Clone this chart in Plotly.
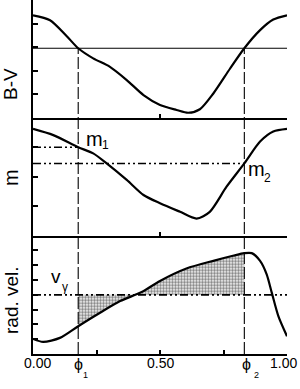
import plotly.graph_objects as go

# ---------------- data ----------------
PHI1 = 0.178
PHI2 = 0.832

bv_phase = [0.0, 0.067, 0.133, 0.178, 0.237, 0.303, 0.369, 0.435, 0.5, 0.565, 0.611,
            0.657, 0.71, 0.776, 0.832, 0.894, 0.946, 1.0]
bv_value = [4.35, 4.14, 3.46, 2.95, 2.52, 2.16, 1.6, 0.96, 0.54, 0.33, 0.21,
            0.36, 1.03, 2.09, 2.95, 3.72, 4.17, 4.35]
BV_REF = 2.95

m_phase = [0.0, 0.08, 0.178, 0.237, 0.29, 0.369, 0.435, 0.5, 0.579, 0.644,
           0.696, 0.762, 0.832, 0.894, 0.946, 1.0]
m_value = [3.62, 3.41, 3.0, 2.79, 2.45, 1.89, 1.38, 1.1, 0.81, 0.58,
           0.81, 1.66, 2.45, 3.19, 3.53, 3.62]
M1 = 3.0
M2 = 2.45

rv_phase = [0.0, 0.04, 0.106, 0.178, 0.264, 0.343, 0.428, 0.5, 0.604, 0.71,
            0.787, 0.832, 0.861, 0.894, 0.92, 0.94, 0.966, 1.0]
rv_value = [1.02, 0.82, 1.09, 1.88, 2.79, 3.58, 4.19, 4.94, 5.78, 6.3,
            6.64, 6.82, 6.82, 6.3, 5.39, 4.15, 2.56, 1.2]
V_GAMMA = 4.0

x_tick_vals = [0, 0.25, 0.5, 0.75, 1.0]
x_tick_labels = ["0.00", "", "0.50", "", "1.00"]

# ---------------- layout helpers ----------------
W, H = 300, 389
ML, MR, MT, MB = 33, 13, 0, 35
PW, PH = W - ML - MR, H - MT - MB


def px(x):
    return (x - ML) / PW


def py(y):
    return (H - MB - y) / PH


D3 = [0.0, 0.3342]
D2 = [0.3342, 0.6675]
D1 = [0.6675, 1.0]
Y1R, Y2R, Y3R = [0, 5], [0, 4], [0, 8]

FONT = "Arial, Liberation Sans, Helvetica, sans-serif"
LW = 2.2
SM = 0.75
fig = go.Figure()

# panel 1: B-V
fig.add_trace(go.Scatter(x=[0, 1], y=[BV_REF, BV_REF], mode="lines",
                         line=dict(color="black", width=1.1), xaxis="x", yaxis="y",
                         hoverinfo="skip"))
fig.add_trace(go.Scatter(x=bv_phase, y=bv_value, mode="lines",
                         line=dict(color="black", width=LW, shape="spline", smoothing=SM),
                         xaxis="x", yaxis="y"))

# panel 2: m
DDOT = "8px,3px,2px,3px,2px,3px"
fig.add_trace(go.Scatter(x=[0, PHI1], y=[M1, M1], mode="lines",
                         line=dict(color="black", width=1.5, dash=DDOT), xaxis="x2", yaxis="y2"))
fig.add_trace(go.Scatter(x=[0, PHI2], y=[M2, M2], mode="lines",
                         line=dict(color="black", width=1.5, dash=DDOT), xaxis="x2", yaxis="y2"))
fig.add_trace(go.Scatter(x=m_phase, y=m_value, mode="lines",
                         line=dict(color="black", width=LW, shape="spline", smoothing=SM),
                         xaxis="x2", yaxis="y2"))

# panel 3: radial velocity
sub_x = [p for p in rv_phase if PHI1 <= p <= PHI2]
sub_y = [v for p, v in zip(rv_phase, rv_value) if PHI1 <= p <= PHI2]
fig.add_trace(go.Scatter(x=[PHI1, PHI2], y=[V_GAMMA, V_GAMMA], mode="lines",
                         line=dict(color="rgba(0,0,0,0)", width=0), xaxis="x3", yaxis="y3",
                         hoverinfo="skip"))
fig.add_trace(go.Scatter(x=sub_x, y=sub_y, mode="lines", fill="tonexty",
                         fillcolor="rgba(0,0,0,0)",
                         fillpattern=dict(shape=".", fgcolor="black", bgcolor="white",
                                          size=3, solidity=0.55),
                         line=dict(color="rgba(0,0,0,0)", width=0, shape="spline", smoothing=SM),
                         xaxis="x3", yaxis="y3", hoverinfo="skip"))
fig.add_trace(go.Scatter(x=[0, 1], y=[V_GAMMA, V_GAMMA], mode="lines",
                         line=dict(color="black", width=1.6, dash=DDOT), xaxis="x3", yaxis="y3"))
fig.add_trace(go.Scatter(x=rv_phase, y=rv_value, mode="lines",
                         line=dict(color="black", width=LW, shape="spline", smoothing=SM),
                         xaxis="x3", yaxis="y3"))

# vertical phase lines spanning panels
top_y = D1[0] + (BV_REF - Y1R[0]) / (Y1R[1] - Y1R[0]) * (D1[1] - D1[0])
for ph in (PHI1, PHI2):
    fig.add_shape(type="line", xref="x3", yref="paper", x0=ph, x1=ph, y0=0, y1=top_y,
                  line=dict(color="black", width=1.1, dash="12px,3px"))

ax_common = dict(range=[0, 1], showgrid=False, zeroline=False, showline=True,
                 linecolor="black", linewidth=1.6, ticks="inside", ticklen=4,
                 tickwidth=1.5, tickcolor="black")
yax_common = dict(showgrid=False, zeroline=False, showline=True, linecolor="black",
                  linewidth=1.6, ticks="inside", ticklen=5, tickwidth=1.6,
                  tickcolor="black", showticklabels=False, dtick=1, tick0=0)

fig.update_layout(
    width=W, height=H, margin=dict(l=ML, r=MR, t=MT, b=MB),
    paper_bgcolor="white", plot_bgcolor="white", showlegend=False,
    font=dict(family=FONT, color="black"),
    xaxis=dict(**ax_common, anchor="y", tickvals=[0, 0.5, 1.0], showticklabels=False),
    xaxis2=dict(**ax_common, anchor="y2", tickvals=[0, 0.5, 1.0], showticklabels=False),
    xaxis3=dict(**ax_common, anchor="y3", tickvals=x_tick_vals, showticklabels=False),
    yaxis=dict(**yax_common, domain=D1, range=Y1R, anchor="x"),
    yaxis2=dict(**yax_common, domain=D2, range=Y2R, anchor="x2"),
    yaxis3=dict(**yax_common, domain=D3, range=Y3R, anchor="x3"),
)

ann = []


def add(text, x, y, size, angle=0, xanchor="center", yanchor="middle"):
    ann.append(dict(text=text, x=px(x), y=py(y), xref="paper", yref="paper",
                    showarrow=False, textangle=angle, xanchor=xanchor, yanchor=yanchor,
                    font=dict(size=size, family=FONT, color="black")))


# axis titles
add("B-V", 10, 84, 19, angle=-90)
add("m", 11, 178, 20, angle=-90)
add("rad. vel.", 11, 300, 19, angle=-90)

# curve labels
add("m", 94, 139, 20)
add("1", 105, 145, 12)
add("m", 256, 169, 20)
add("2", 267, 178, 12)
add("v", 56, 276, 19)
add("γ", 65, 287, 12)

# x tick labels
label_pos = {"0.00": 37.5, "0.50": 160, "1.00": 283}
for v, t in zip(x_tick_vals, x_tick_labels):
    if t:
        add(t, label_pos[t], 363, 14)
add("ϕ", 78.5, 364, 16)
add("1", 85.5, 375, 9)
add("ϕ", 246, 364, 16)
add("2", 256.5, 374.5, 9)

fig.update_layout(annotations=ann)
fig.write_html("out.html")
